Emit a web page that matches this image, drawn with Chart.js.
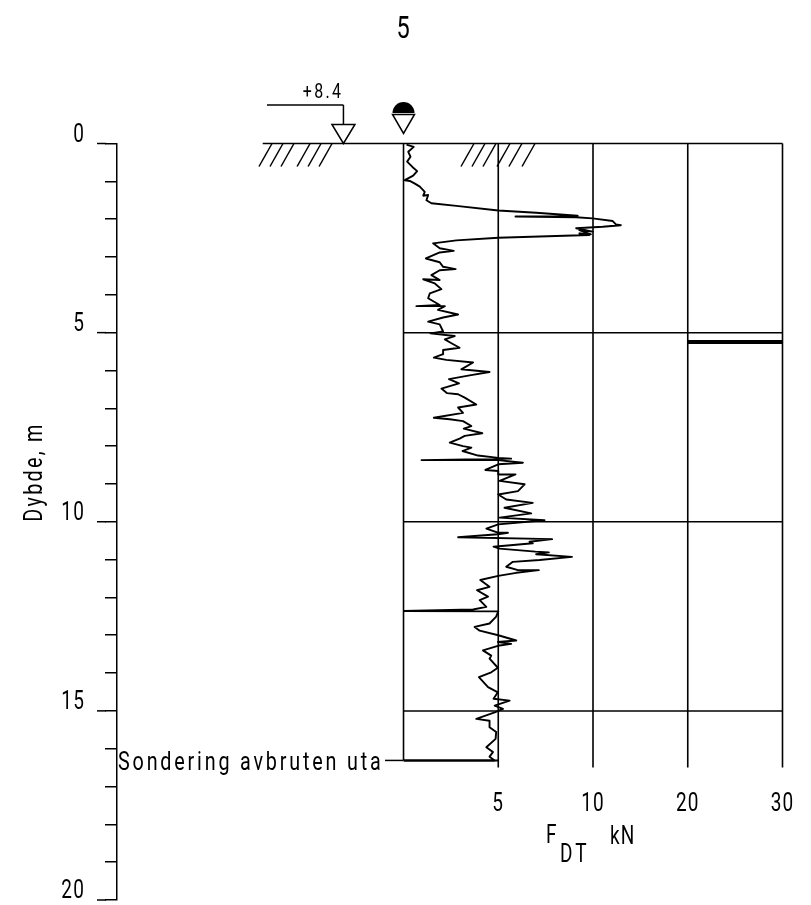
<!DOCTYPE html>
<html><head><meta charset="utf-8">
<script src="https://cdn.jsdelivr.net/npm/chart.js@4"></script>
<style>html,body{margin:0;padding:0;background:#fff}canvas{display:block}</style>
</head><body><canvas id="c" width="811" height="905"></canvas>
<script>
const pageTitle = "5";
const yAxisTitle = "Dybde, m";
const depthLabels = [0, 5, 10, 15, 20];
const forceTicks = [5, 10, 20, 30];
const stopText = "Sondering avbruten uta";
const levelText = "+8.4";
const traceForce = [0.16,0.54,0.25,0.37,0.19,0.47,0.72,0.51,0.07,0.33,0.60,0.86,1.12,1.04,1.30,1.21,1.47,2.79,5.0,7.0,9.19,5.91,9.1,9.98,12.08,12.42,12.94,11.02,9.11,9.98,9.28,9.89,9.28,9.8,5.0,2.79,1.56,1.91,2.65,1.91,1.18,1.91,2.09,2.75,1.91,1.47,1.91,1.04,1.65,2.0,1.39,1.30,1.91,0.68,2.18,1.82,2.88,2.09,1.30,1.91,2.09,
1.42,2.70,2.18,2.53,2.96,2.09,2.09,1.60,2.26,3.67,3.05,4.54,3.49,2.40,2.93,2.0,2.30,2.88,3.23,3.84,2.88,3.14,1.60,2.44,3.14,3.58,3.18,4.16,3.23,2.96,2.44,3.14,3.58,3.11,3.93,5.0,5.68,0.95,5.0,6.30,5.0,4.32,5.0,5.0,5.91,5.07,6.39,6.04,5.0,5.42,6.82,5.33,6.74,5.07,7.44,5.0,4.37,
4.98,5.51,4.98,2.88,7.84,6.65,6.82,4.75,5.07,6.96,7.67,7.0,8.89,7.18,5.77,5.42,6.04,7.14,5.95,5.0,4.05,4.54,3.88,4.46,4.02,4.37,3.67,0.02,5.0,4.89,4.54,3.75,4.02,5.0,
5.95,4.98,5.68,5.07,4.19,4.63,4.54,4.98,4.63,3.98,4.46,4.98,4.75,5.6,4.81,5.25,4.81,3.84,4.54,4.54,4.89,4.86,4.37,4.72,4.54,4.81,0.02];
const traceDepth = [0.03,0.09,0.22,0.35,0.48,0.62,0.73,0.85,0.97,0.99,1.06,1.14,1.28,1.38,1.36,1.50,1.58,1.65,1.77,1.83,1.91,1.93,1.95,1.98,2.05,2.14,2.16,2.20,2.24,2.33,2.29,2.40,2.38,2.42,2.49,2.56,2.64,2.77,2.84,2.88,3.04,3.14,3.26,3.32,3.35,3.48,3.61,3.59,3.70,3.85,3.96,4.09,4.27,4.30,4.30,4.40,4.52,4.60,4.71,4.78,4.97,
5.02,5.09,5.18,5.28,5.40,5.46,5.57,5.66,5.72,5.79,5.97,6.04,6.13,6.23,6.34,6.48,6.60,6.63,6.72,6.90,6.98,7.12,7.25,7.29,7.34,7.47,7.54,7.66,7.73,7.80,7.91,8.0,8.04,8.13,8.25,8.31,8.33,8.37,8.37,8.44,8.48,8.63,8.66,8.75,8.75,8.92,9.01,9.19,9.28,9.41,9.50,9.63,9.78,9.89,9.96,10.07,10.18,
10.29,10.29,10.33,10.41,10.46,10.53,10.57,10.66,10.71,10.79,10.81,10.86,10.93,11.01,11.06,11.19,11.28,11.28,11.35,11.43,11.54,11.72,11.81,11.98,12.07,12.25,12.32,12.36,12.37,12.51,12.69,12.78,12.88,13.0,
13.14,13.18,13.23,13.27,13.40,13.54,13.62,13.86,13.98,14.11,14.37,14.51,14.68,14.73,14.86,14.95,15.04,15.21,15.26,15.43,15.56,15.74,15.96,16.09,16.21,16.31,16.31];
const stopDepth = 16.31;
const gridDepths = [5, 10, 15];
const gridForces = [0, 5, 10, 20, 30];
const groundFrom = -7.43;
const forceMaxValue = 30;
const thickLineForce = [20, 30];
const thickLineDepth = 5.25;
const hatchTops = [-6.94,-6.36,-5.78,-4.93,-4.35,-3.77,3.72,4.30,4.88,5.62,6.25,6.94];
const FAMILY = 'Roboto';
const INK = '#000';

class BrokenForceScale extends Chart.LinearScale {
  static id = 'brokenForce';
  static defaults = {};
  squeeze(v){ return v <= 10 ? v : 10 + (v - 10) / 2; }
  getPixelForValue(v){
    const a = this.squeeze(this.min), b = this.squeeze(this.max);
    return this.getPixelForDecimal((this.squeeze(v) - a) / (b - a));
  }
}
Chart.register(BrokenForceScale);

const canvas = document.getElementById('c');
const context = canvas.getContext('2d');
// The drafting lettering is narrow: condense every label horizontally.
const textNarrow = 0.76;
const plainFill = context.fillText.bind(context);
context.fillText = function(t, x, y, m){
  context.save();
  context.translate(x, y);
  context.scale(textNarrow, 1);
  if (m === undefined) plainFill(t, 0, 0); else plainFill(t, 0, 0, m);
  context.restore();
};

function seg(x0,y0,x1,y1,w=1.5){return {type:'line',data:[{x:x0,y:y0},{x:x1,y:y1}],borderColor:INK,borderWidth:w,pointRadius:0,fill:false,clip:false,tension:0,order:2};}
const datasets = [];
datasets.push({label:'FDT',type:'line',data:traceForce.map((f,i)=>({x:f,y:traceDepth[i]})),borderColor:INK,borderWidth:1.9,borderJoinStyle:'round',pointRadius:0,fill:false,tension:0,clip:false,order:1});
gridDepths.forEach(d=>datasets.push(seg(0,d,forceMaxValue,d)));
gridForces.forEach(f=>datasets.push(seg(f,0,f,f===0?stopDepth:16.5,1.6)));
datasets.push(seg(groundFrom,0,forceMaxValue,0,1.6));
datasets.push(seg(thickLineForce[0],thickLineDepth,thickLineForce[1],thickLineDepth,4));
datasets.push(seg(0,stopDepth,5,stopDepth,2));

const decor = {
  id:'decor',
  beforeDraw(chart){ chart.ctx.letterSpacing='1.5px'; },
  afterDraw(chart){
    const ctx=chart.ctx, X=chart.scales.x, Y=chart.scales.y;
    const px=v=>X.getPixelForValue(v), py=v=>Y.getPixelForValue(v);
    ctx.save();
    ctx.strokeStyle=INK; ctx.fillStyle=INK; ctx.lineWidth=1.5; ctx.lineCap='butt';
    const line=(a,b,c,d)=>{ctx.beginPath();ctx.moveTo(a,b);ctx.lineTo(c,d);ctx.stroke();};
    depthLabels.forEach(d=>{line(97,py(d),106,py(d));});
    hatchTops.forEach(t=>{line(px(t),py(0),px(t)-13,py(0)+23);});
    const g0=py(0), lx=px(-3.17);
    line(267,g0-38.5,lx,g0-38.5); line(lx,g0-38.5,lx,g0-19);
    ctx.beginPath();ctx.moveTo(lx-11.5,g0-19);ctx.lineTo(lx+11.5,g0-19);ctx.lineTo(lx,g0);ctx.closePath();ctx.stroke();
    const wx=px(0);
    ctx.beginPath();ctx.arc(wx,g0-30.5,11,Math.PI,0);ctx.closePath();ctx.fill();
    ctx.beginPath();ctx.moveTo(wx-11,g0-29);ctx.lineTo(wx+11,g0-29);ctx.lineTo(wx,g0-10);ctx.closePath();ctx.stroke();
    line(385,py(stopDepth),px(0),py(stopDepth));
    ctx.textBaseline='alphabetic'; ctx.textAlign='left';
    ctx.font='26px '+FAMILY; ctx.letterSpacing='3.7px';
    ctx.fillText(stopText,118,770);
    ctx.font='25px '+FAMILY; ctx.letterSpacing='1.5px';
    ctx.fillText('F',546,843);
    ctx.fillText('kN',610,844);
    ctx.letterSpacing='4px';
    ctx.fillText('DT',560,862);
    ctx.font='21px '+FAMILY; ctx.letterSpacing='3px';
    ctx.textAlign='center';
    ctx.fillText(levelText,323,98);
    ctx.font='31px '+FAMILY; ctx.letterSpacing='0px';
    ctx.fillText(pageTitle,403,38);
    ctx.font='26px '+FAMILY; ctx.letterSpacing='3px';
    ctx.translate(42,472); ctx.rotate(-Math.PI/2);
    ctx.fillText(yAxisTitle,0,0);
    ctx.restore();
  }
};

new Chart(context,{
  type:'line',
  data:{datasets},
  plugins:[decor],
  options:{
    responsive:false,animation:false,events:[],
    layout:{padding:{top:143.5,right:28.5,bottom:5,left:0}},
    plugins:{legend:{display:false},tooltip:{enabled:false},title:{display:false}},
    scales:{
      x:{type:'brokenForce',min:-15.12,max:forceMaxValue,position:{y:16.5},
        afterFit(s){s.height=0;},
        afterBuildTicks(s){s.ticks=forceTicks.map(v=>({value:v}));},
        grid:{display:false},border:{display:false},
        ticks:{color:INK,font:{family:FAMILY,size:25},maxRotation:0,autoSkip:false,padding:14}},
      y:{type:'linear',reverse:true,min:0,max:20,position:'left',
        afterFit(s){s.width=117;s.paddingTop=0;s.paddingBottom=0;},
        grid:{drawOnChartArea:false,drawTicks:true,tickLength:12,color:INK,lineWidth:1.5},
        border:{display:true,color:INK,width:1.5},
        ticks:{stepSize:1,color:INK,font:{family:FAMILY,size:25},labelOffset:-8,padding:20,autoSkip:false,
          callback:v=>depthLabels.includes(v)?String(v):''}}
    }
  }
});
</script></body></html>
